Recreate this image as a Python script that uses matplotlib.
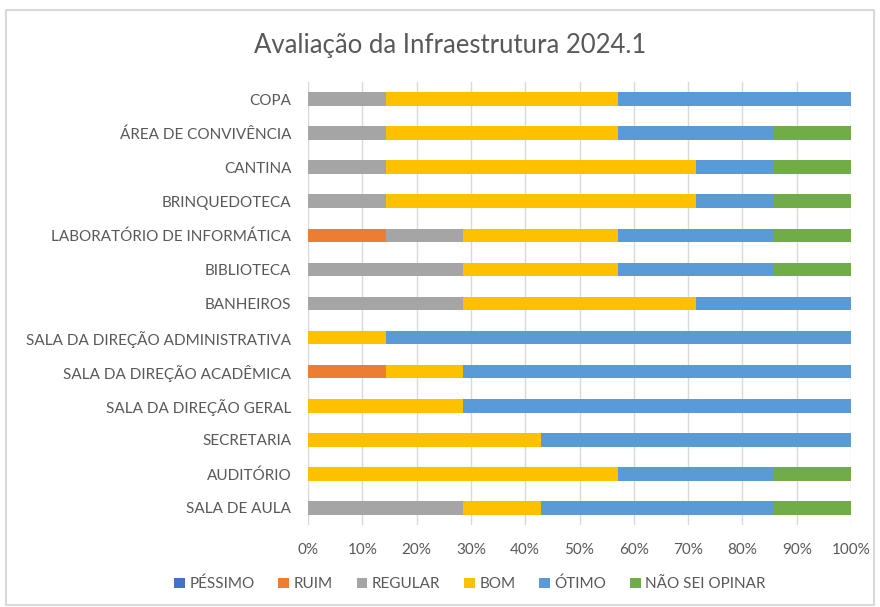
import numpy as np
from matplotlib import pyplot as plt
from matplotlib.patches import Rectangle

# categories, bottom to top (as drawn by barh)
categories = ['SALA DE AULA', 'AUDITÓRIO', 'SECRETARIA', 'SALA DA DIREÇÃO GERAL',
              'SALA DA DIREÇÃO ACADÊMICA', 'SALA DA DIREÇÃO ADMINISTRATIVA', 'BANHEIROS',
              'BIBLIOTECA', 'LABORATÓRIO DE INFORMÁTICA', 'BRINQUEDOTECA', 'CANTINA',
              'ÁREA DE CONVIVÊNCIA', 'COPA']

# number of answers per category (7 respondents)
pessimo = [0, 0, 0, 0, 0, 0, 0, 0, 0, 0, 0, 0, 0]
ruim = [0, 0, 0, 0, 1, 0, 0, 0, 1, 0, 0, 0, 0]
regular = [2, 0, 0, 0, 0, 0, 2, 2, 1, 1, 1, 1, 1]
bom = [1, 4, 3, 2, 1, 1, 3, 2, 2, 4, 4, 3, 3]
otimo = [3, 2, 4, 5, 5, 6, 2, 2, 2, 1, 1, 2, 3]
nao_sei = [1, 1, 0, 0, 0, 0, 0, 1, 1, 1, 1, 1, 0]

series_names = ['PÉSSIMO', 'RUIM', 'REGULAR', 'BOM', 'ÓTIMO', 'NÃO SEI OPINAR']
series_colors = ['#4472C4', '#ED7D31', '#A5A5A5', '#FFC000', '#5B9BD5', '#70AD47']

plt.rcParams['font.family'] = ['Lato', 'DejaVu Sans']

data = np.array([pessimo, ruim, regular, bom, otimo, nao_sei], dtype=float)
data = data / data.sum(axis=0)

fig = plt.figure(figsize=(8.8, 6.07), dpi=100)
fig.patches.append(Rectangle((6 / 880, 0.003), 868 / 880, 1 - 10 / 607 - 0.003,
                             transform=fig.transFigure, fill=False,
                             edgecolor='#D9D9D9', linewidth=1.5))
ax = fig.add_axes([308 / 880, 82 / 607, (851 - 308) / 880, (525 - 82) / 607])

y = np.arange(len(categories))
left = np.zeros(len(categories))
for name, color, vals in zip(series_names, series_colors, data):
    ax.barh(y, vals, left=left, height=0.4, color=color, label=name, zorder=3)
    left += vals

ax.set_xlim(0, 1)
ax.set_ylim(-0.5, len(categories) - 0.5)
ax.set_xticks(np.arange(0, 1.01, 0.1))
ax.set_xticklabels([f'{int(round(v * 100))}%' for v in np.arange(0, 1.01, 0.1)])
ax.set_yticks(y)
ax.set_yticklabels(categories)
ax.tick_params(axis='both', length=0, colors='#595959', labelsize=11)
ax.tick_params(axis='x', pad=13)
ax.tick_params(axis='y', pad=12)
ax.grid(axis='x', color='#D9D9D9', linewidth=1, zorder=0)
for s in ax.spines.values():
    s.set_visible(False)

fig.text(450 / 880, 1 - 45 / 607, 'Avaliação da Infraestrutura 2024.1',
         ha='center', va='center', fontsize=18.5, color='#595959')

fig.legend(loc='center', bbox_to_anchor=(470 / 880, 1 - 584 / 607), ncol=6,
           frameon=False, fontsize=11, labelcolor='#595959',
           handlelength=0.7, handleheight=0.7, handletextpad=0.3, columnspacing=1.55)

plt.savefig('out.png', dpi=100)
